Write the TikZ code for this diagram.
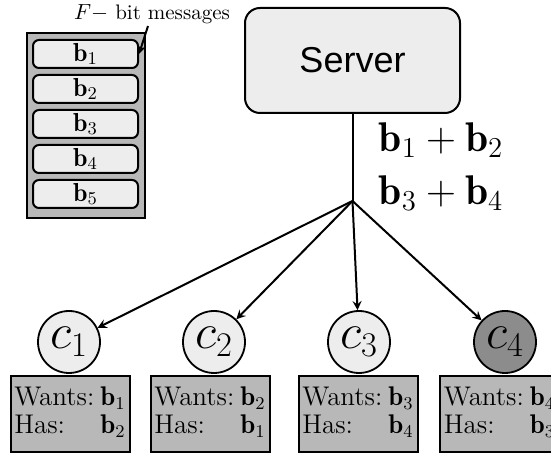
\documentclass[tikz,border=0pt]{standalone}
\usepackage{fontspec}
\newfontfamily\serverfont{Liberation Sans}
\usetikzlibrary{arrows,positioning}

\definecolor{lightfill}{gray}{0.93}
\definecolor{boxgray}{gray}{0.72}
\definecolor{darkfill}{gray}{0.55}

\tikzset{
  msgbox/.style={draw, line width=1pt, rounded corners=3pt, fill=lightfill,
    minimum width=52.5pt, minimum height=14pt, inner sep=0pt, font=\fontsize{13}{14}\selectfont},
  client/.style={draw, line width=0.9pt, circle, fill=lightfill,
    minimum size=31pt, inner sep=0pt, font=\fontsize{26}{28}\selectfont},
  infobox/.style={draw, line width=1pt, fill=boxgray,
    minimum width=59.5pt, minimum height=38pt, inner sep=1pt, font=\fontsize{13.5}{14}\selectfont},
  link/.style={line width=1pt}
}

\newcommand{\wanthas}[2]{\begin{tabular}{@{}l@{\hspace{3pt}}r@{}}Wants: & $\mathbf{b}_{#1}$\\ Has: & $\mathbf{b}_{#2}$\end{tabular}}

\begin{document}
\begin{tikzpicture}[x=0.5pt, y=-0.5pt, auto]
				\clip (0, 0) rectangle (551, 453);
				
				% file of messages
				\node [draw, line width=1pt, fill=boxgray, minimum width=59pt, minimum height=92.5pt] (stack) at (86, 125.5) {};
				\node [msgbox] (msg1) at (85.5, 54) {$\mathbf{b}_1$};
				\node [msgbox] (msg2) at (85.5, 89) {$\mathbf{b}_2$};
				\node [msgbox] (msg3) at (85.5, 124) {$\mathbf{b}_3$};
				\node [msgbox] (msg4) at (85.5, 159) {$\mathbf{b}_4$};
				\node [msgbox] (msg5) at (85.5, 194) {$\mathbf{b}_5$};
				\node [font=\fontsize{10.5}{12}\selectfont, inner sep=1pt] (flabel) at (152, 14) {$F-$ bit messages};
				\draw [-stealth, link] ([xshift=-2pt]flabel.south) to (msg1.east);
				
				% server and broadcast
				\node [draw, line width=1pt, rounded corners=7.5pt, fill=lightfill, minimum width=107.5pt, minimum height=52.5pt, font=\serverfont\fontsize{18}{20}\selectfont] (server) at (352.5, 60.5) {Server};
				\coordinate (hub) at (352.5, 201);
				\node [font=\huge] (sumA) at (441, 140) {$\mathbf{b}_1+\mathbf{b}_2$};
				\node [font=\huge] (sumB) at (441, 193) {$\mathbf{b}_3+\mathbf{b}_4$};
				
				% clients
				\node [client] (c1) at (69, 342) {$c_1$};
				\node [client] (c2) at (214, 342) {$c_2$};
				\node [client] (c3) at (359, 342) {$c_3$};
				\node [client, fill=darkfill] (c4) at (505, 342) {$c_4$};
				
				\node [infobox] (side1) at (70, 414) {\wanthas{1}{2}};
				\node [infobox] (side2) at (210, 414) {\wanthas{2}{1}};
				\node [infobox] (side3) at (358, 414) {\wanthas{3}{4}};
				\node [infobox] (side4) at (499.5, 414) {\wanthas{4}{3}};
				
				\draw [-, link] (server) to (hub);
				\draw [-stealth, link] (hub) to (c1);
				\draw [-stealth, link] (hub) to (c2);
				\draw [-stealth, link] (hub) to (c3);
				\draw [-stealth, link] (hub) to (c4);
				\end{tikzpicture}
\end{document}
